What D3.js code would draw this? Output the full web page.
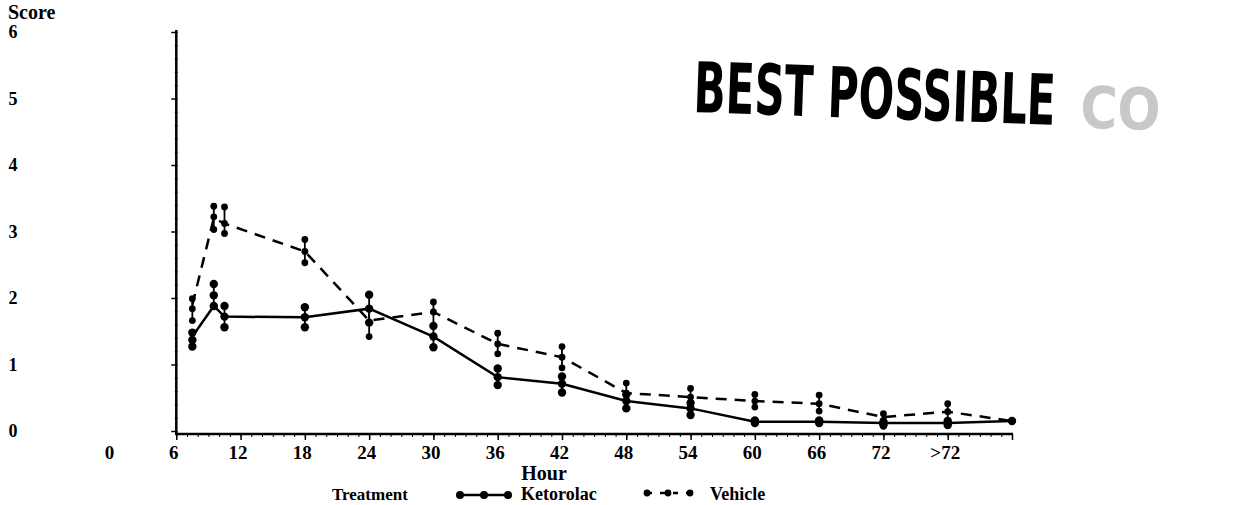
<!DOCTYPE html>
<html>
<head>
<meta charset="utf-8">
<script src="https://cdn.jsdelivr.net/npm/d3@7"></script>
<style>
  body { margin: 0; background: #fff; }
  svg { display: block; }
  .lbl { font-family: "Liberation Serif", "DejaVu Serif", serif; font-weight: bold; fill: #000; }
</style>
</head>
<body>
<div id="area"></div>
<script>
// hours at which scores were taken (x = 78 is the ">72" slot, 84 the last tick)
var hours = [7.5, 9.5, 10.5, 18, 24, 30, 36, 42, 48, 54, 60, 66, 72, 78, 84];

var ketoMean = [1.42, 1.88, 1.72, 1.71, 1.84, 1.42, 0.81, 0.71, 0.45, 0.34, 0.14, 0.14, 0.12, 0.12, 0.15];
var ketoDots = [[1.27, 1.37, 1.48], [1.88, 2.04, 2.21], [1.56, 1.72, 1.88], [1.56, 1.71, 1.86],
                [1.63, 1.84, 2.05], [1.26, 1.42, 1.58], [0.69, 0.81, 0.94], [0.58, 0.71, 0.82],
                [0.34, 0.45, 0.55], [0.24, 0.34, 0.42], [0.12, 0.14, 0.16], [0.12, 0.14, 0.16],
                [0.09, 0.11, 0.14], [0.09, 0.12, 0.15], [0.15]];

var vehMean = [1.90, 3.20, 3.12, 2.70, 1.66, 1.79, 1.31, 1.11, 0.57, 0.51, 0.45, 0.41, 0.21, 0.29, 0.15];
var vehDots = [[1.66, 1.84, 1.99], [3.03, 3.22, 3.38], [2.97, 3.12, 3.37], [2.53, 2.70, 2.88],
               [1.42, 1.63, 1.84], [1.58, 1.79, 1.94], [1.16, 1.31, 1.47], [0.95, 1.11, 1.27],
               [0.45, 0.57, 0.72], [0.38, 0.51, 0.64], [0.36, 0.45, 0.55], [0.30, 0.41, 0.54],
               [0.07, 0.16, 0.26], [0.16, 0.29, 0.41], [0.15]];

var xTicks = [0, 6, 12, 18, 24, 30, 36, 42, 48, 54, 60, 66, 72, 78, 84];
var xTickLabels = ["0", "6", "12", "18", "24", "30", "36", "42", "48", "54", "60", "66", "72", ">72", ""];
var yTicks = [0, 1, 2, 3, 4, 5, 6];

var width = 1249, height = 505;

var svg = d3.select('#area').append('svg')
            .attr('width', width)
            .attr('height', height);

var x = d3.scaleLinear().domain([0, 84]).range([112, 1012]);
var y = d3.scaleLinear().domain([0, 6]).range([431, 32]);
var axisY = 434;

// x axis
var xAxis = d3.axisBottom(x)
              .tickValues(xTicks)
              .tickSize(6)
              .tickFormat(function(d, i) { return xTickLabels[i]; });

var gx = svg.append('g')
            .attr('transform', 'translate(0,' + axisY + ')')
            .call(xAxis);
gx.select('.domain').remove();
gx.selectAll('.tick line').attr('stroke-width', 1.5)
  .filter(function(d) { return d < 6; }).remove();
gx.selectAll('.tick text')
  .attr('class', 'lbl')
  .attr('y', 25).attr('dy', 0).attr('dx', -3)
  .style('font-size', '19px');

var gxMinor = svg.append('g')
                 .attr('transform', 'translate(0,' + axisY + ')')
                 .call(d3.axisBottom(x).tickValues(d3.range(6, 85, 1)).tickSize(3).tickFormat(''));
gxMinor.select('.domain').remove();

svg.append('line')
   .attr('x1', x(6) - 1).attr('x2', x(84) + 1)
   .attr('y1', axisY).attr('y2', axisY)
   .attr('stroke', '#000').attr('stroke-width', 2.5);

// y axis
var gy = svg.append('g')
            .attr('transform', 'translate(' + x(6) + ',0)')
            .call(d3.axisLeft(y).tickValues(yTicks).tickSize(5).tickFormat(d3.format('d')));
gy.select('.domain').remove();
gy.selectAll('.tick line').attr('stroke-width', 1.5);
gy.selectAll('.tick text')
  .attr('class', 'lbl')
  .attr('x', 13 - x(6))
  .attr('text-anchor', 'middle')
  .style('font-size', '18px');

var gyMinor = svg.append('g')
                 .attr('transform', 'translate(' + (x(6) + 1.5) + ',0)')
                 .call(d3.axisLeft(y).tickValues(d3.range(0, 30.5, 1).map(function(d) { return d * 0.2; }))
                                     .tickSize(3).tickFormat(''));
gyMinor.select('.domain').remove();

svg.append('line')
   .attr('x1', x(6)).attr('x2', x(6))
   .attr('y1', y(6) - 2).attr('y2', axisY + 1)
   .attr('stroke', '#000').attr('stroke-width', 2.5);

// titles
svg.append('text').attr('class', 'lbl')
   .attr('x', 8).attr('y', 19)
   .style('font-size', '20px')
   .text('Score');

svg.append('text').attr('class', 'lbl')
   .attr('x', 544).attr('y', 480)
   .attr('text-anchor', 'middle')
   .style('font-size', '20px')
   .text('Hour');

// series
var line = d3.line()
             .x(function(d) { return x(d[0]); })
             .y(function(d) { return y(d[1]); });

function drawSeries(means, dots, r, dash) {
  var g = svg.append('g');
  g.append('path')
   .datum(hours.map(function(h, i) { return [h, means[i]]; }))
   .attr('d', line)
   .attr('fill', 'none')
   .attr('stroke', '#000')
   .attr('stroke-width', 2.5)
   .attr('stroke-dasharray', dash);

  hours.forEach(function(h, i) {
    var vals = dots[i];
    g.append('line')
     .attr('x1', x(h)).attr('x2', x(h))
     .attr('y1', y(d3.min(vals))).attr('y2', y(d3.max(vals)))
     .attr('stroke', '#000').attr('stroke-width', 1.8);
    g.selectAll(null)
     .data(vals)
     .enter().append('circle')
     .attr('cx', x(h))
     .attr('cy', function(d) { return y(d); })
     .attr('r', r)
     .attr('fill', '#000');
  });
}

drawSeries(vehMean, vehDots, 3.4, '11,8');
drawSeries(ketoMean, ketoDots, 4.2, null);

// legend
var legendY = 495;
var legendBase = 500;
svg.append('text').attr('class', 'lbl')
   .attr('x', 332).attr('y', legendBase)
   .style('font-size', '17px')
   .text('Treatment');

var keyK = [460, 484, 508];
svg.append('line')
   .attr('x1', keyK[0]).attr('x2', keyK[2])
   .attr('y1', legendY).attr('y2', legendY)
   .attr('stroke', '#000').attr('stroke-width', 2.5);
svg.selectAll(null).data(keyK).enter().append('circle')
   .attr('cx', function(d) { return d; }).attr('cy', legendY).attr('r', 4).attr('fill', '#000');
svg.append('text').attr('class', 'lbl')
   .attr('x', 521).attr('y', legendBase)
   .style('font-size', '18px')
   .text('Ketorolac');

var keyV = [647, 668, 690];
svg.append('line')
   .attr('x1', keyV[0]).attr('x2', keyV[2])
   .attr('y1', legendY - 2).attr('y2', legendY - 2)
   .attr('stroke', '#000').attr('stroke-width', 2.5)
   .attr('stroke-dasharray', '5,8');
svg.selectAll(null).data(keyV).enter().append('circle')
   .attr('cx', function(d) { return d; }).attr('cy', legendY - 2).attr('r', 3.4).attr('fill', '#000');
svg.append('text').attr('class', 'lbl')
   .attr('x', 710).attr('y', legendBase)
   .style('font-size', '18px')
   .text('Vehicle');

// scanned stamp
var stamp = svg.append('g').attr('transform', 'translate(693,112) rotate(2)');
stamp.append('text')
     .attr('x', 0).attr('y', 0)
     .style('font-family', '"DejaVu Sans Condensed", "DejaVu Sans", sans-serif')
     .style('font-weight', 'bold')
     .style('font-stretch', 'condensed')
     .style('font-size', '70px')
     .attr('textLength', 362)
     .attr('lengthAdjust', 'spacingAndGlyphs')
     .attr('fill', '#000')
     .text('BEST POSSIBLE');
stamp.append('text')
     .attr('x', 387).attr('y', 2)
     .style('font-family', '"DejaVu Sans Condensed", "DejaVu Sans", sans-serif')
     .style('font-weight', 'bold')
     .style('font-size', '58px')
     .attr('textLength', 80)
     .attr('lengthAdjust', 'spacingAndGlyphs')
     .attr('fill', '#c8c8c8')
     .text('CO');
</script>
</body>
</html>
